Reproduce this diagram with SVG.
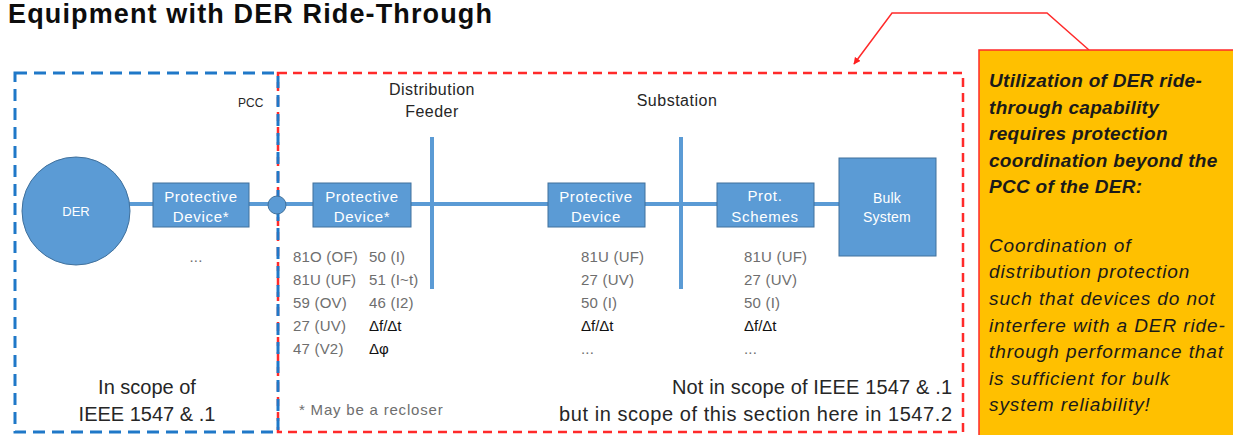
<svg xmlns="http://www.w3.org/2000/svg" width="1233" height="435" viewBox="0 0 1233 435">
<defs>
<marker id="arr" viewBox="0 0 10 10" refX="9" refY="5" markerWidth="7" markerHeight="7" orient="auto" markerUnits="userSpaceOnUse">
<path d="M0,0 L10,5 L0,10 z" fill="#FF2020"/>
</marker>
<style>
.f{font-family:"Liberation Sans",Arial,sans-serif}
.box{fill:#5B9BD5;stroke:#41719C;stroke-width:1}
.wt{fill:#FFFFFF;font-size:15px;letter-spacing:0.7px;text-anchor:middle}
.wire{stroke:#5B9BD5;stroke-width:4;fill:none}
.code{fill:#6E6E6E;font-size:15px;letter-spacing:0.2px}
.dk{fill:#111111;font-size:15px}
.big{fill:#262626;font-size:20px}
.yb{fill:#1A1A1A;font-size:19px;font-style:italic}
.lbl{fill:#262626;font-size:16px;letter-spacing:0.5px;text-anchor:middle}
</style>
</defs>
<rect x="0" y="0" width="1233" height="435" fill="#FFFFFF"/>
<text class="f" x="8" y="23" font-size="27" font-weight="bold" fill="#0D0D0D" textLength="484">Equipment with DER Ride-Through</text>

<g id="scope-boxes">
<rect x="278" y="73" width="685" height="359" fill="none" stroke="#FF2A2A" stroke-width="2.5" stroke-dasharray="9,6"/>
<rect x="15" y="73" width="263" height="359" fill="none" stroke="#1F78C8" stroke-width="3" stroke-dasharray="12,7"/>
</g>

<g id="connectors">
<line class="wire" x1="128" y1="204" x2="840" y2="204"/>
<line class="wire" x1="432" y1="137" x2="432" y2="289"/>
<line class="wire" x1="681" y1="137" x2="681" y2="289"/>
<polyline points="1089,50 1047,13 892,13 854,64" fill="none" stroke="#FF2A2A" stroke-width="1.5" marker-end="url(#arr)"/>
</g>

<g id="der">
<circle cx="76" cy="211" r="54" class="box"/>
<text class="f wt" x="76" y="216" style="font-size:13px;letter-spacing:0">DER</text>
</g>
<g id="pd1">
<rect class="box" x="153" y="183" width="96" height="44"/>
<text class="f wt" x="201" y="202">Protective</text>
<text class="f wt" x="201" y="222">Device*</text>
<text class="f code" x="196" y="262" text-anchor="middle">...</text>
</g>
<g id="pcc">
<circle cx="277" cy="205" r="9" class="box"/>
<text class="f" x="238" y="107" font-size="12" fill="#262626">PCC</text>
</g>
<g id="pd2">
<rect class="box" x="313" y="183" width="98" height="44"/>
<text class="f wt" x="362" y="202">Protective</text>
<text class="f wt" x="362" y="222">Device*</text>
</g>
<g id="feeder">
<text class="f lbl" x="432" y="95">Distribution</text>
<text class="f lbl" x="432" y="117">Feeder</text>
</g>
<g id="substation">
<text class="f lbl" x="677" y="106">Substation</text>
</g>
<g id="pd3">
<rect class="box" x="548" y="183" width="97" height="44"/>
<text class="f wt" x="596" y="202">Protective</text>
<text class="f wt" x="596" y="222">Device</text>
</g>
<g id="prot-schemes">
<rect class="box" x="717" y="183" width="97" height="44"/>
<text class="f wt" x="765" y="201">Prot.</text>
<text class="f wt" x="765" y="222">Schemes</text>
</g>
<g id="bulk">
<rect class="box" x="839" y="158" width="97" height="98"/>
<text class="f wt" x="887" y="203" style="font-size:14px;letter-spacing:0.2px">Bulk</text>
<text class="f wt" x="887" y="222" style="font-size:14px;letter-spacing:0.2px">System</text>
</g>

<g id="codes-feeder">
<text class="f code" x="293" y="262">81O (OF)</text>
<text class="f code" x="293" y="285">81U (UF)</text>
<text class="f code" x="293" y="308">59 (OV)</text>
<text class="f code" x="293" y="331">27 (UV)</text>
<text class="f code" x="293" y="354">47 (V2)</text>
<text class="f code" x="369" y="262">50 (I)</text>
<text class="f code" x="369" y="285">51 (I~t)</text>
<text class="f code" x="369" y="308">46 (I2)</text>
<text class="f dk" x="369" y="331">Δf/Δt</text>
<text class="f dk" x="369" y="354">Δφ</text>
</g>
<g id="codes-substation">
<text class="f code" x="581" y="262">81U (UF)</text>
<text class="f code" x="581" y="285">27 (UV)</text>
<text class="f code" x="581" y="308">50 (I)</text>
<text class="f dk" x="581" y="331">Δf/Δt</text>
<text class="f code" x="581" y="354">...</text>
</g>
<g id="codes-schemes">
<text class="f code" x="744" y="262">81U (UF)</text>
<text class="f code" x="744" y="285">27 (UV)</text>
<text class="f code" x="744" y="308">50 (I)</text>
<text class="f dk" x="744" y="331">Δf/Δt</text>
<text class="f code" x="744" y="354">...</text>
</g>

<g id="notes">
<text class="f code" x="299" y="415" style="letter-spacing:0.8px">* May be a recloser</text>
<text class="f big" x="147" y="394" text-anchor="middle">In scope of</text>
<text class="f big" x="147" y="421" text-anchor="middle">IEEE 1547 &amp; .1</text>
<text class="f big" x="672" y="394" textLength="280">Not in scope of IEEE 1547 &amp; .1</text>
<text class="f big" x="559" y="421" textLength="393">but in scope of this section here in 1547.2</text>
</g>

<g id="callout">
<rect x="979" y="50" width="260" height="390" fill="#FFC000" stroke="#FF2A2A" stroke-width="1.5"/>
<g font-weight="bold" letter-spacing="0.3">
<text class="f yb" x="989" y="87">Utilization of DER ride-</text>
<text class="f yb" x="989" y="114">through capability</text>
<text class="f yb" x="989" y="140">requires protection</text>
<text class="f yb" x="989" y="167">coordination beyond the</text>
<text class="f yb" x="989" y="193">PCC of the DER:</text>
</g>
<g letter-spacing="0.9">
<text class="f yb" x="989" y="252">Coordination of</text>
<text class="f yb" x="989" y="278">distribution protection</text>
<text class="f yb" x="989" y="305">such that devices do not</text>
<text class="f yb" x="989" y="332">interfere with a DER ride-</text>
<text class="f yb" x="989" y="358">through performance that</text>
<text class="f yb" x="989" y="385">is sufficient for bulk</text>
<text class="f yb" x="989" y="411">system reliability!</text>
</g>
</g>
</svg>
